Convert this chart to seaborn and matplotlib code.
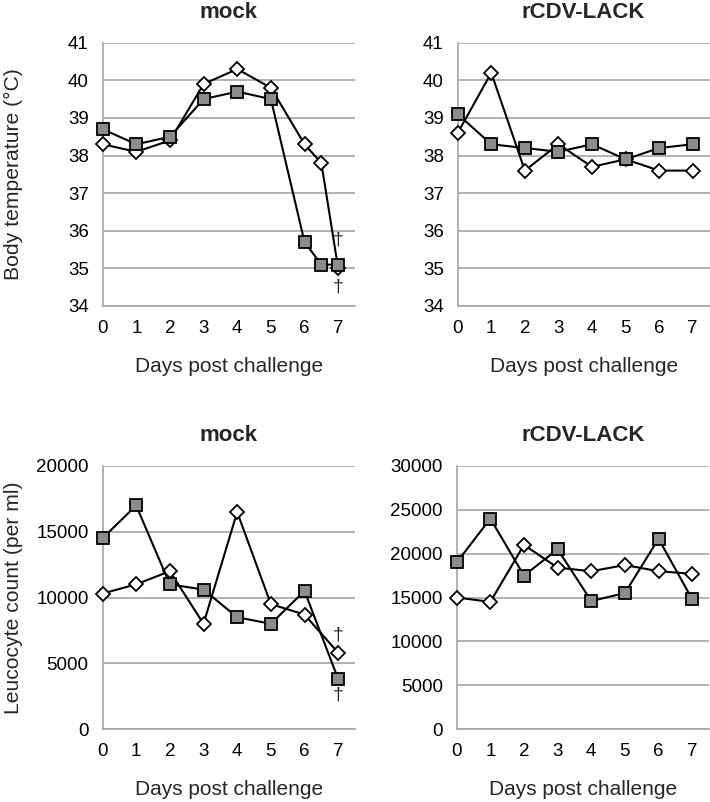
import matplotlib
matplotlib.use("Agg")
import matplotlib.pyplot as plt
import seaborn as sns
import pandas as pd

# ---- data ----
days_mock_temp = [0, 1, 2, 3, 4, 5, 6, 6.5, 7]
mock_temp_square = [38.7, 38.3, 38.5, 39.5, 39.7, 39.5, 35.7, 35.1, 35.1]
mock_temp_diamond = [38.3, 38.1, 38.4, 39.9, 40.3, 39.8, 38.3, 37.8, 35.0]

days = [0, 1, 2, 3, 4, 5, 6, 7]
lack_temp_square = [39.1, 38.3, 38.2, 38.1, 38.3, 37.9, 38.2, 38.3]
lack_temp_diamond = [38.6, 40.2, 37.6, 38.3, 37.7, 37.9, 37.6, 37.6]

mock_leuco_square = [14500, 17000, 11000, 10600, 8500, 8000, 10500, 3800]
mock_leuco_diamond = [10300, 11000, 12000, 8000, 16500, 9500, 8700, 5800]

lack_leuco_square = [19000, 24000, 17500, 20500, 14600, 15500, 21700, 14800]
lack_leuco_diamond = [15000, 14500, 21000, 18400, 18000, 18700, 18000, 17700]

titles = ["mock", "rCDV-LACK", "mock", "rCDV-LACK"]
xlabel = "Days post challenge"
ylabel_temp = "Body temperature (°C)"
ylabel_leuco = "Leucocyte count (per ml)"
xticks = [0, 1, 2, 3, 4, 5, 6, 7]
temp_ticks = [34, 35, 36, 37, 38, 39, 40, 41]
mock_leuco_ticks = [0, 5000, 10000, 15000, 20000]
lack_leuco_ticks = [0, 5000, 10000, 15000, 20000, 25000, 30000]

# ---- style ----
sns.set_style("white")
plt.rcParams["font.family"] = ["Liberation Sans", "DejaVu Sans"]

fig = plt.figure(figsize=(7.10, 8.02), dpi=100)
W, H = 710, 802

def make_ax(x0, x1, ytop, ybot):
    return fig.add_axes([x0 / W, 1 - ybot / H, (x1 - x0) / W, (ybot - ytop) / H])

ax_tl = make_ax(102.7, 355, 42.7, 306)
ax_tr = make_ax(457.7, 709.5, 42.7, 306)
ax_bl = make_ax(102.5, 355, 466, 729)
ax_br = make_ax(456.7, 709, 466, 729)

grid_col = "#a6a6a6"

def draw(ax, xd, ys_d, ys_s, yticks, title):
    df_d = pd.DataFrame({"day": xd, "val": ys_d})
    df_s = pd.DataFrame({"day": xd, "val": ys_s})
    sns.lineplot(data=df_d, x="day", y="val", ax=ax, color="black", lw=1.5,
                 marker="D", markersize=7, markerfacecolor="white",
                 markeredgecolor="black", markeredgewidth=1.3, zorder=3,
                 clip_on=False)
    sns.lineplot(data=df_s, x="day", y="val", ax=ax, color="black", lw=1.5,
                 marker="s", markersize=9, markerfacecolor="#8c8c8c",
                 markeredgecolor="black", markeredgewidth=1.3, zorder=4,
                 clip_on=False)
    ax.set_xlim(0, 7.5)
    ax.set_ylim(yticks[0], yticks[-1])
    ax.set_xticks(xticks)
    ax.set_yticks(yticks)
    ax.set_xticklabels([str(t) for t in xticks], fontsize=13.5)
    ax.set_yticklabels([str(t) for t in yticks], fontsize=13.5)
    ax.yaxis.grid(True, color=grid_col, lw=1.2)
    ax.xaxis.grid(False)
    ax.set_axisbelow(True)
    for s in ["top", "right"]:
        ax.spines[s].set_visible(False)
    for s in ["left", "bottom"]:
        ax.spines[s].set_color(grid_col)
        ax.spines[s].set_linewidth(1.2)
    ax.tick_params(axis="both", direction="out", length=5, width=1.2,
                   color=grid_col, labelcolor="black", pad=5)
    ax.set_title(title, fontsize=16, fontweight="bold", pad=18)
    ax.set_xlabel(xlabel, fontsize=15)
    ax.set_ylabel("")

draw(ax_tl, days_mock_temp, mock_temp_diamond, mock_temp_square, temp_ticks, titles[0])
draw(ax_tr, days, lack_temp_diamond, lack_temp_square, temp_ticks, titles[1])
draw(ax_bl, days, mock_leuco_diamond, mock_leuco_square, mock_leuco_ticks, titles[2])
draw(ax_br, days, lack_leuco_diamond, lack_leuco_square, lack_leuco_ticks, titles[3])

for ax in [ax_tl, ax_tr, ax_bl, ax_br]:
    ax.xaxis.set_label_coords(0.5, -0.195)

ax_tl.set_ylabel(ylabel_temp, fontsize=15.2)
ax_tl.yaxis.set_label_coords(-0.315, 0.5)
ax_bl.set_ylabel(ylabel_leuco, fontsize=15.2)
ax_bl.yaxis.set_label_coords(-0.315, 0.5)

# death markers
ax_tl.text(7, 35.75, "†", ha="center", va="center", fontsize=14)
ax_tl.text(7, 34.5, "†", ha="center", va="center", fontsize=14)
ax_bl.text(7, 7150, "†", ha="center", va="center", fontsize=14)
ax_bl.text(7, 2600, "†", ha="center", va="center", fontsize=14)

fig.savefig("out.png", dpi=100)
